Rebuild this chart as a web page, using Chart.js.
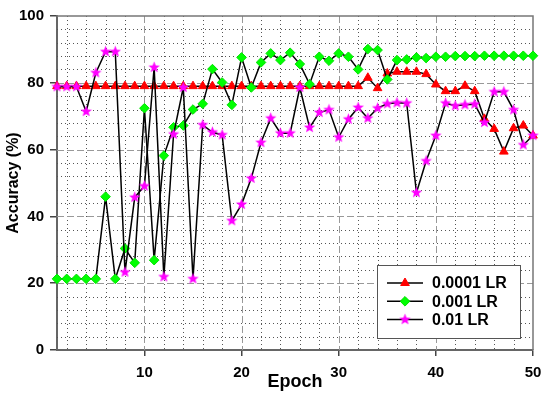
<!DOCTYPE html>
<html>
<head>
<meta charset="utf-8">
<script src="https://cdn.jsdelivr.net/npm/chart.js@4/dist/chart.umd.min.js"></script>
<style>
  html, body { margin: 0; padding: 0; background: #fff; }
  #wrap { width: 550px; height: 397px; }
</style>
</head>
<body>
<div id="wrap"><canvas id="accChart" width="550" height="397"></canvas></div>
<script>
// epochs on the x axis
const epochs = [1, 2, 3, 4, 5, 6, 7, 8, 9, 10, 11, 12, 13, 14, 15, 16, 17, 18, 19, 20,
    21, 22, 23, 24, 25, 26, 27, 28, 29, 30, 31, 32, 33, 34, 35, 36, 37, 38, 39, 40,
    41, 42, 43, 44, 45, 46, 47, 48, 49, 50];

// accuracy (%) per learning rate
const acc0001 = [79, 79, 79, 79, 79, 79, 79, 79, 79, 79, 79, 79, 79, 79, 79, 79, 79, 79, 79, 79,
    79, 79, 79, 79, 79, 79, 79, 79, 79, 79, 79, 79, 81.5, 78.4, 82.8, 83.3, 83.3, 83.3, 82.6, 79.5,
    77.5, 77.5, 79.1, 77.5, 69.2, 66.2, 59.4, 66.4, 67.2, 64.2];
const acc001 = [21.3, 21.3, 21.3, 21.3, 21.3, 45.9, 21.3, 30.4, 26.1, 72.4, 26.9, 58.2, 66.7, 67.2, 72.0, 73.7, 84.1, 80.1, 73.4, 87.6,
    78.6, 86.1, 88.8, 86.8, 89.0, 85.6, 79.6, 87.8, 86.6, 88.8, 87.8, 84.0, 90.1, 89.8, 81.0, 86.8, 87.0, 87.6, 87.4, 87.8,
    87.8, 88.0, 88.0, 88.0, 88.1, 88.1, 88.1, 88.1, 88.1, 88.1];
const acc01 = [78.8, 78.8, 78.8, 71.4, 83.0, 89.3, 89.3, 23.3, 45.7, 49.1, 84.6, 21.9, 64.6, 78.6, 21.3, 67.4, 65.2, 64.4, 38.7, 43.6,
    51.4, 62.1, 69.4, 64.9, 64.9, 78.6, 66.6, 71.1, 71.9, 63.7, 69.1, 72.6, 69.4, 72.4, 73.7, 74.0, 73.9, 47.1, 56.6, 64.2,
    73.9, 73.1, 73.4, 73.6, 68.1, 77.3, 77.3, 71.9, 61.4, 64.2];

const seriesLabels = ['0.0001 LR', '0.001 LR', '0.01 LR'];

// tick values
const xTicks = [10, 20, 30, 40, 50];
const xMinorTicks = [2, 4, 6, 8, 12, 14, 16, 18, 22, 24, 26, 28, 32, 34, 36, 38, 42, 44, 46, 48];
const yTicks = [0, 20, 40, 60, 80, 100];
const yMinorTicks = [4, 8, 12, 16, 24, 28, 32, 36, 44, 48, 52, 56, 64, 68, 72, 76, 84, 88, 92, 96];

const FONT = "'Liberation Sans', Arial, sans-serif";

// filled five point star used as the marker of the 0.01 LR series
function makeStar(color) {
    const c = document.createElement('canvas');
    c.width = 13;
    c.height = 13;
    const g = c.getContext('2d');
    g.fillStyle = color;
    g.beginPath();
    for (let i = 0; i < 10; i++) {
        const r = i % 2 === 0 ? 6 : 2.6;
        const a = -Math.PI / 2 + i * Math.PI / 5;
        const px = 6.5 + Math.cos(a) * r;
        const py = 6.5 + Math.sin(a) * r;
        if (i === 0) g.moveTo(px, py); else g.lineTo(px, py);
    }
    g.closePath();
    g.fill();
    return c;
}
const starMarker = makeStar('#ff00ff');

function toPoints(values) {
    return epochs.map((e, i) => ({ x: e, y: values[i] }));
}

function fixTicks(list) {
    return function (scale) {
        scale.ticks = list.map(v => ({ value: v }));
    };
}

// grid (minor dotted, major dashed) taken from the scales, plus top/right frame
const gridPlugin = {
    id: 'gridLines',
    beforeDatasetsDraw(chart) {
        const { ctx, chartArea: a, scales } = chart;
        const xs = scales.x, ys = scales.y;
        const vline = v => {
            const p = Math.round(xs.getPixelForValue(v)) + 0.5;
            ctx.beginPath(); ctx.moveTo(p, a.top); ctx.lineTo(p, a.bottom); ctx.stroke();
        };
        const hline = v => {
            const p = Math.round(ys.getPixelForValue(v)) + 0.5;
            ctx.beginPath(); ctx.moveTo(a.left, p); ctx.lineTo(a.right, p); ctx.stroke();
        };
        ctx.save();
        ctx.lineWidth = 1;
        ctx.strokeStyle = '#555';
        ctx.setLineDash([1, 3]);
        xMinorTicks.forEach(vline);
        yMinorTicks.forEach(hline);
        ctx.strokeStyle = '#999';
        ctx.setLineDash([7, 3]);
        xTicks.slice(0, -1).forEach(vline);
        yTicks.slice(1, -1).forEach(hline);
        ctx.setLineDash([]);
        ctx.strokeStyle = '#777';
        ctx.lineWidth = 1.5;
        ctx.beginPath();
        ctx.moveTo(a.left, a.top);
        ctx.lineTo(a.right, a.top);
        ctx.lineTo(a.right, a.bottom);
        ctx.stroke();
        ctx.restore();
    }
};

// legend box inside the plot, bottom right
const legendPlugin = {
    id: 'boxLegend',
    afterDraw(chart) {
        const { ctx, chartArea: a } = chart;
        ctx.save();
        const bx = a.right - 156, by = a.bottom - 85, bw = 143, bh = 73;
        ctx.fillStyle = '#fff';
        ctx.fillRect(bx, by, bw, bh);
        ctx.strokeStyle = '#555';
        ctx.lineWidth = 1;
        ctx.strokeRect(bx + 0.5, by + 0.5, bw, bh);

        ctx.font = 'bold 16px ' + FONT;
        ctx.textBaseline = 'middle';
        ctx.textAlign = 'left';
        chart.data.datasets.forEach((ds, i) => {
            const yy = by + 18 + i * 18.3;
            ctx.strokeStyle = '#000';
            ctx.lineWidth = 1.5;
            ctx.beginPath();
            ctx.moveTo(bx + 10, yy);
            ctx.lineTo(bx + 46, yy);
            ctx.stroke();
            ctx.fillStyle = ds.pointBackgroundColor;
            ctx.strokeStyle = ds.pointBorderColor;
            ctx.lineWidth = 1;
            if (Chart.helpers && Chart.helpers.drawPoint) {
                Chart.helpers.drawPoint(ctx, {
                    pointStyle: ds.pointStyle,
                    radius: ds.pointRadius,
                    rotation: 0,
                    borderWidth: 1
                }, bx + 28, yy);
            }
            ctx.fillStyle = '#000';
            ctx.fillText(ds.label, bx + 55, yy + 1);
        });
        ctx.restore();
    }
};

const ctx = document.getElementById('accChart').getContext('2d');
const accChart = new Chart(ctx, {
    type: 'line',
    data: {
        datasets: [
            {
                label: seriesLabels[0],
                data: toPoints(acc0001),
                borderColor: '#000',
                borderWidth: 1.5,
                pointStyle: 'triangle',
                pointRadius: 5,
                pointBackgroundColor: '#ff0000',
                pointBorderColor: '#ff0000',
                pointBorderWidth: 1,
                tension: 0,
                clip: false,
                order: 3
            },
            {
                label: seriesLabels[1],
                data: toPoints(acc001),
                borderColor: '#000',
                borderWidth: 1.5,
                pointStyle: 'rectRot',
                pointRadius: 4.8,
                pointBackgroundColor: '#00ff00',
                pointBorderColor: '#00e000',
                pointBorderWidth: 1,
                tension: 0,
                clip: false,
                order: 2
            },
            {
                label: seriesLabels[2],
                data: toPoints(acc01),
                borderColor: '#000',
                borderWidth: 1.5,
                pointStyle: starMarker,
                pointRadius: 6,
                pointBackgroundColor: '#ff00ff',
                pointBorderColor: '#ff00ff',
                pointBorderWidth: 1,
                tension: 0,
                clip: false,
                order: 1
            }
        ]
    },
    options: {
        responsive: false,
        animation: false,
        layout: { padding: { left: 0, top: 16, right: 17, bottom: 0 } },
        plugins: {
            legend: { display: false },
            tooltip: { enabled: false }
        },
        scales: {
            x: {
                type: 'linear',
                position: 'bottom',
                min: 1,
                max: 50,
                afterBuildTicks: fixTicks(xTicks),
                afterFit: s => { s.height = 47; },
                ticks: {
                    color: '#000',
                    padding: 8,
                    font: { family: FONT, size: 15, weight: 'bold' }
                },
                border: { display: true, color: '#666', width: 2 },
                grid: { drawOnChartArea: false, tickLength: 6, tickColor: '#444', lineWidth: 1.5 },
                title: {
                    display: true,
                    text: 'Epoch',
                    color: '#000',
                    padding: { top: 0, bottom: 4 },
                    font: { family: FONT, size: 18, weight: 'bold' }
                }
            },
            y: {
                type: 'linear',
                position: 'left',
                min: 0,
                max: 100,
                afterBuildTicks: fixTicks(yTicks),
                afterFit: s => { s.width = 57; },
                ticks: {
                    color: '#000',
                    padding: 6,
                    font: { family: FONT, size: 15, weight: 'bold' }
                },
                border: { display: true, color: '#666', width: 2 },
                grid: { drawOnChartArea: false, tickLength: 7, tickColor: '#444', lineWidth: 1.5 },
                title: {
                    display: true,
                    text: 'Accuracy (%)',
                    color: '#000',
                    padding: { top: 4, bottom: 0 },
                    font: { family: FONT, size: 16, weight: 'bold' }
                }
            }
        }
    },
    plugins: [gridPlugin, legendPlugin]
});
</script>
</body>
</html>
